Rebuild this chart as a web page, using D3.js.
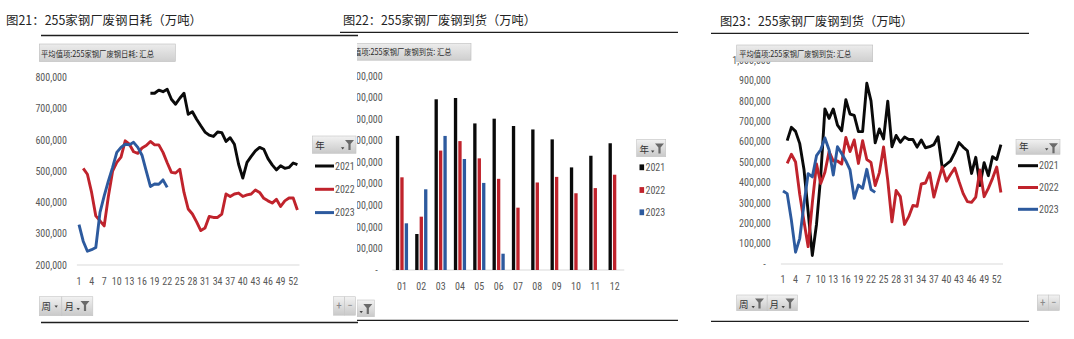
<!DOCTYPE html>
<html><head><meta charset="utf-8">
<script src="https://cdn.jsdelivr.net/npm/d3@7"></script>
<style>body{margin:0;background:#fff}svg{display:block}</style>
</head><body>
<svg id="c" width="1074" height="339"></svg>
<script>
// ---------------- DATA ----------------
const years = ["2021", "2022", "2023"];
const weeks = [1,2,3,4,5,6,7,8,9,10,11,12,13,14,15,16,17,18,19,20,21,22,23,24,25,26,27,28,29,30,31,32,33,34,35,36,37,38,39,40,41,42,43,44,45,46,47,48,49,50,51,52,53];
const weekTickLabels = [1,4,7,10,13,16,19,22,25,28,31,34,37,40,43,46,49,52];
const months = ["01","02","03","04","05","06","07","08","09","10","11","12"];
const consumptionTicks = [200000,300000,400000,500000,600000,700000,800000];
const monthArrivalTicks = [0,500000,1000000,1500000,2000000,2500000,3000000,3500000,4000000,4500000];
const weekArrivalTicks = [0,100000,200000,300000,400000,500000,600000,700000,800000,900000,1000000];

// 图21 daily consumption (weekly average), weeks 1..53
const consumption2021 = [null,null,null,null,null,null,null,null,null,null,null,null,null,null,null,null,null,
  749000,749000,759000,754000,762000,730000,714000,733000,749000,682000,690000,666000,645000,625000,615000,611000,
  625000,623000,595000,607000,586000,522000,478000,528000,547000,565000,576000,570000,540000,520000,504000,517000,
  509000,512000,526000,521000];
const consumption2022 = [null,509000,490000,432000,357000,341000,325000,420000,500000,528000,545000,597000,586000,
  562000,557000,574000,582000,595000,584000,584000,560000,527000,496000,494000,506000,432000,379000,363000,338000,
  310000,318000,355000,352000,352000,363000,427000,419000,427000,430000,419000,424000,427000,440000,432000,413000,
  405000,398000,410000,387000,405000,414000,414000,376000];
const consumption2023 = [329000,276000,244000,249000,256000,368000,421000,469000,512000,560000,576000,586000,584000,
  592000,576000,551000,501000,451000,459000,458000,472000,448000];

// 图22 monthly arrivals
const monthArrival2021 = [3110000,835000,3960000,3990000,3400000,3510000,3340000,3260000,3030000,2380000,2650000,2940000];
const monthArrival2022 = [2150000,1237000,2770000,2990000,2590000,2115000,1446000,2030000,2160000,1780000,1900000,2210000];
const monthArrival2023 = [1083000,1872000,3110000,2575000,2020000,378000];

// 图23 weekly arrivals, weeks 1..53
const weekArrival2021 = [null,605000,670000,650000,590000,465000,255000,42000,195000,430000,760000,714000,760000,
  681000,653000,805000,735000,728000,649000,649000,886000,800000,594000,662000,613000,798000,575000,630000,597000,
  622000,610000,610000,573000,608000,570000,575000,585000,624000,472000,489000,506000,546000,595000,573000,555000,
  444000,523000,385000,497000,433000,526000,512000,585000];
const weekArrival2022 = [null,493000,538000,500000,340000,210000,85000,300000,490000,395000,450000,551000,505000,
  505000,490000,620000,551000,608000,493000,604000,512000,498000,385000,448000,574000,410000,207000,360000,330000,
  194000,232000,287000,283000,392000,397000,447000,328000,404000,475000,406000,440000,470000,405000,345000,306000,
  302000,328000,461000,330000,371000,420000,475000,351000];
const weekArrival2023 = [358000,345000,215000,58000,126000,293000,443000,427000,531000,560000,618000,559000,436000,
  575000,542000,505000,461000,322000,387000,371000,464000,365000,351000];

// ---------------- STYLE ----------------
const COLORS = ["#0a0a0a", "#C0232C", "#2D5A9E"];
const NUM = "'Liberation Sans Narrow','Arial Narrow','Roboto Condensed','DejaVu Sans Condensed',sans-serif";
const CJK = "'Noto Sans CJK SC','Noto Sans',sans-serif";
const TXT = "#595959";

const svg = d3.select("#c");
const defs = svg.append("defs");
function gradient(id, a, b) {
  const gr = defs.append("linearGradient").attr("id", id).attr("x1", 0).attr("y1", 0).attr("x2", 0).attr("y2", 1);
  gr.append("stop").attr("offset", "0%").attr("stop-color", a);
  gr.append("stop").attr("offset", "100%").attr("stop-color", b);
}
gradient("btn", "#f2f2f2", "#c9c9c9");
gradient("hdr", "#ececec", "#cfcfcf");
defs.append("clipPath").attr("id", "clip2").append("rect")
  .attr("x", 357).attr("y", 38).attr("width", 330).attr("height", 281);

// ---------------- helpers ----------------
function rule(x1, x2, y) {
  svg.append("line").attr("x1", x1).attr("x2", x2).attr("y1", y).attr("y2", y)
    .attr("stroke", "#1e1e1e").attr("stroke-width", 1.3);
}
function title(x, y, w, t) {
  svg.append("text").attr("x", x).attr("y", y).attr("textLength", w).attr("lengthAdjust", "spacingAndGlyphs")
    .style("font-family", CJK).style("font-size", "12.5px").attr("fill", "#222").text(t);
}
function header(g, x, y, w, h, tx, tw, t) {
  g.append("rect").attr("x", x).attr("y", y).attr("width", w).attr("height", h)
    .attr("fill", "url(#hdr)").attr("stroke", "#bdbdbd").attr("stroke-width", 0.6);
  g.append("text").attr("x", tx).attr("y", y + h - 5).attr("textLength", tw).attr("lengthAdjust", "spacingAndGlyphs")
    .style("font-family", CJK).style("font-size", "8.5px").attr("fill", "#2b2b2b").text(t);
}
function box(g, x, y, w, h) {
  g.append("rect").attr("x", x).attr("y", y).attr("width", w).attr("height", h)
    .attr("fill", "url(#btn)").attr("stroke", "#c4c4c4").attr("stroke-width", 0.6);
}
function cjk(g, x, y, t, size) {
  g.append("text").attr("x", x).attr("y", y).style("font-family", CJK).style("font-size", (size || 9) + "px")
    .attr("fill", "#333").text(t);
}
function arrow(g, x, y) { // small ▾
  g.append("path").attr("d", `M${x},${y} h3.4 l-1.7,2.2 z`).attr("fill", "#444");
}
function funnel(g, x, y) { // x,y top-left; 9 x 10
  g.append("path").attr("d", `M${x},${y} h9 l-3.4,4 v6 h-2.2 v-6 z`).attr("fill", "#6a6a6a");
}
function plusMinus(g, x, y, h) {
  box(g, x, y, 11, h); box(g, x + 11, y, 11, h);
  g.append("text").attr("x", x + 5.5).attr("y", y + h / 2 + 3.5).attr("text-anchor", "middle")
    .style("font-family", NUM).style("font-size", "11px").attr("fill", "#8a8a8a").text("+");
  g.append("text").attr("x", x + 16.5).attr("y", y + h / 2 + 3.5).attr("text-anchor", "middle")
    .style("font-family", NUM).style("font-size", "11px").attr("fill", "#8a8a8a").text("−");
}
function styleAxis(a) {
  a.select(".domain").remove();
  a.attr("font-family", null).attr("font-size", null);
  a.selectAll("text").style("font-family", NUM).style("font-size", "10px").attr("fill", TXT);
}

// ---------------- line panel ----------------
function linePanel(o) {
  const g = svg.append("g");
  const x = d3.scaleBand().domain(weeks).range(o.xRange);
  const y = d3.scaleLinear().domain(o.yDomain).range(o.yRange);
  g.append("line").attr("x1", o.xRange[0]).attr("x2", o.xRange[1])
    .attr("y1", y(o.yDomain[0])).attr("y2", y(o.yDomain[0])).attr("stroke", "#d9d9d9").attr("stroke-width", 1);
  const ya = g.append("g").attr("transform", `translate(${o.labelX},0)`)
    .call(d3.axisLeft(y).tickValues(o.ticks).tickSize(0).tickPadding(0)
      .tickFormat(d => d === 0 ? "-" : d3.format(",")(d)));
  styleAxis(ya);
  ya.selectAll(".tick text").filter(d => d === 0).attr("dx", -5);
  const xa = g.append("g").attr("transform", `translate(0,${y(o.yDomain[0])})`)
    .call(d3.axisBottom(x).tickValues(weekTickLabels).tickSize(0).tickPadding(o.xPad));
  styleAxis(xa);
  const line = d3.line().defined(d => d != null)
    .x((d, i) => x(weeks[i]) + x.bandwidth() / 2).y(d => y(d)).curve(d3.curveLinear);
  o.series.forEach((s, i) => {
    g.append("path").datum(s).attr("d", line).attr("fill", "none").attr("stroke", COLORS[i])
      .attr("stroke-width", 2.9).attr("stroke-linejoin", "round").attr("stroke-linecap", "butt");
  });
  // legend
  const L = o.legend;
  box(g, L.x, L.y, L.w, L.h);
  cjk(g, L.x + 3, L.y + L.h - 4, "年", 9.5);
  arrow(g, L.x + L.w - 15, L.y + L.h - 6);
  funnel(g, L.x + L.w - 11, L.y + 4);
  years.forEach((yr, i) => {
    const yy = L.firstY + i * L.step;
    g.append("line").attr("x1", L.lx1).attr("x2", L.lx2).attr("y1", yy).attr("y2", yy)
      .attr("stroke", COLORS[i]).attr("stroke-width", 3);
    g.append("text").attr("x", L.lx2 + 1).attr("y", yy + 3.6).style("font-family", NUM)
      .style("font-size", "10px").attr("fill", TXT).text(yr);
  });
  return g;
}

// ================= PANEL 1 =================
title(6, 25, 196, "图21：255家钢厂废钢日耗（万吨）");
rule(41, 358, 35.5);
rule(41, 358, 322.5);
const p1 = linePanel({
  xRange: [76.9, 299.5], yDomain: [200000, 800000], yRange: [265, 77.3], ticks: consumptionTicks,
  labelX: 67, xPad: 13,
  series: [consumption2021, consumption2022, consumption2023],
  legend: { x: 312.3, y: 136, w: 43.7, h: 17.3, firstY: 166, step: 23.3, lx1: 315, lx2: 334 }
});
header(p1, 39.3, 44, 136, 17.5, 41, 113, "平均值项:255家钢厂废钢日耗: 汇总");
box(p1, 39.3, 296.7, 22.5, 19); box(p1, 61.8, 296.7, 31, 19);
cjk(p1, 41.5, 310, "周", 9.5); arrow(p1, 54.5, 305.5);
cjk(p1, 64.5, 310, "月", 9.5); arrow(p1, 76.5, 308); funnel(p1, 80.5, 301);
plusMinus(p1, 333.5, 296.7, 18.5);

// ================= PANEL 2 =================
title(343, 25, 193, "图22：255家钢厂废钢到货（万吨）");
rule(340, 678, 32.3);
rule(357, 678, 320.3);
{
  const g = svg.append("g").attr("clip-path", "url(#clip2)");
  const x = d3.scaleBand().domain(months).range([392.3, 624.3]);
  const xi = d3.scaleBand().domain(years).range([-6.1, 6.1]).paddingInner(0.25);
  const y = d3.scaleLinear().domain([0, 4500000]).range([270, 76]);
  header(g, 336, 43.5, 135, 16.7, 339.5, 112, "平均值项:255家钢厂废钢到货: 汇总");
  g.append("line").attr("x1", 392.3).attr("x2", 624.3).attr("y1", y(0)).attr("y2", y(0))
    .attr("stroke", "#d9d9d9").attr("stroke-width", 1);
  const ya = g.append("g").attr("transform", "translate(382.7,0)")
    .call(d3.axisLeft(y).tickValues(monthArrivalTicks).tickSize(0).tickPadding(0)
      .tickFormat(d => d === 0 ? "-" : d3.format(",")(d)));
  styleAxis(ya);
  ya.selectAll(".tick text").filter(d => d === 0).attr("dx", -5);
  const xa = g.append("g").attr("transform", `translate(0,${y(0)})`)
    .call(d3.axisBottom(x).tickSize(0).tickPadding(12.4));
  styleAxis(xa);
  [monthArrival2021, monthArrival2022, monthArrival2023].forEach((s, i) => {
    g.append("g").selectAll("rect").data(s.map((v, j) => ({ m: months[j], v })).filter(d => d.v != null))
      .join("rect")
      .attr("x", d => x(d.m) + x.bandwidth() / 2 + xi(years[i]))
      .attr("width", xi.bandwidth())
      .attr("y", d => y(d.v)).attr("height", d => y(0) - y(d.v))
      .attr("fill", COLORS[i]);
  });
  // legend
  box(g, 636.7, 139.3, 29, 17.4);
  cjk(g, 639.5, 152.5, "年", 9.5); arrow(g, 651, 150.5); funnel(g, 655, 143.5);
  years.forEach((yr, i) => {
    const yy = [167.3, 190, 212.3][i];
    g.append("rect").attr("x", 639.5).attr("y", yy - 2.9).attr("width", 4.6).attr("height", 5.8).attr("fill", COLORS[i]);
    g.append("text").attr("x", 645.5).attr("y", yy + 3.6).style("font-family", NUM).style("font-size", "10px")
      .attr("fill", TXT).text(yr);
  });
  box(g, 357, 300, 17.3, 16.7);
  arrow(g, 359.5, 311); funnel(g, 363.3, 304);
}

// ================= PANEL 3 =================
title(720, 26, 193, "图23：255家钢厂废钢到货（万吨）");
rule(711, 1029, 33.3);
rule(711, 1029, 321.3);
const p3 = linePanel({
  xRange: [780.9, 1003], yDomain: [0, 1000000], yRange: [264, 60], ticks: weekArrivalTicks,
  labelX: 770.7, xPad: 11.6,
  series: [weekArrival2021, weekArrival2022, weekArrival2023],
  legend: { x: 1016, y: 139.3, w: 44, h: 15, firstY: 165.7, step: 21.8, lx1: 1018, lx2: 1038 }
});
header(p3, 736.7, 45, 136, 16.7, 739.3, 112, "平均值项:255家钢厂废钢到货: 汇总");
box(p3, 736.7, 295, 30.5, 15.7); box(p3, 767.2, 295, 30.1, 15.7);
cjk(p3, 739, 307.5, "周", 9.5); arrow(p3, 751.5, 306); funnel(p3, 755, 298.5);
cjk(p3, 769.5, 307.5, "月", 9.5); arrow(p3, 781.5, 306); funnel(p3, 785.5, 298.5);
plusMinus(p3, 1037.3, 295, 15.5);
</script>
</body></html>
